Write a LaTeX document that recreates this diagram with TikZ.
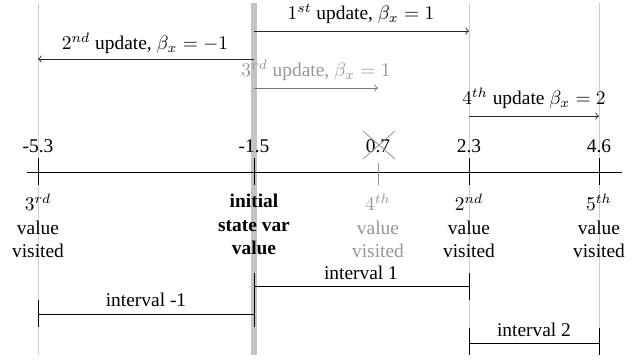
\documentclass[tikz,border=0pt]{standalone}
\usepackage{fontspec}
\setmainfont{Liberation Serif}
\definecolor{vline}{RGB}{205,205,205}
\definecolor{bar}{RGB}{195,195,195}
\definecolor{faded}{RGB}{150,150,150}
\definecolor{fadedline}{RGB}{120,120,120}
\begin{document}
\begin{tikzpicture}[x=0.515pt,y=-0.515pt,
  guide/.style={draw=vline, line width=0.5pt},
  initbar/.style={draw=bar, line width=2.6pt},
  axisline/.style={draw=black, line width=0.45pt},
  tick/.style={draw=black, line width=0.45pt},
  upd/.style={draw=black!85, line width=0.45pt, -to},
  updfaded/.style={draw=fadedline, line width=0.45pt, -to},
  lbl/.style={inner sep=0pt, font=\normalsize},
  vis/.style={inner sep=0pt, align=center, anchor=north},
  ivl/.style={draw=black, line width=0.45pt},
]
\useasboundingbox (0,0) rectangle (639,360);
% guides
\coordinate (gAt) at (38,3);   \coordinate (gAb) at (38,355);
\coordinate (gBt) at (254,3);  \coordinate (gBb) at (254,355);
\coordinate (gDt) at (469,3);  \coordinate (gDb) at (469,355);
\coordinate (gEt) at (599,3);  \coordinate (gEb) at (599,355);
\draw[guide] (gAt) -- (gAb);
\draw[guide] (gDt) -- (gDb);
\draw[guide] (gEt) -- (gEb);
\draw[initbar] (gBt) -- (gBb);
% axis
\coordinate (axL) at (27,172); \coordinate (axR) at (622,172);
\draw[axisline] (axL) -- (axR);
\foreach \n/\x in {A/38,B/254,D/469,E/599}{
  \coordinate (tk\n t) at (\x,158); \coordinate (tk\n b) at (\x,185);
  \draw[tick] (tk\n t) -- (tk\n b);
}
\coordinate (tkCt) at (378,163); \coordinate (tkCb) at (378,185);
\draw[tick, draw=faded] (tkCt) -- (tkCb);
% axis value labels
\node[lbl] (vA) at (38,146) {-5.3};
\node[lbl] (vB) at (254,146) {-1.5};
\node[lbl] (vC) at (378,146) {0.7};
\node[lbl] (vD) at (469,146) {2.3};
\node[lbl] (vE) at (599,146) {4.6};
\coordinate (xa) at (363,131); \coordinate (xb) at (395,159);
\coordinate (xc) at (363,159); \coordinate (xd) at (395,131);
\draw[draw=faded, line width=0.45pt] (xa) -- (xb);
\draw[draw=faded, line width=0.45pt] (xc) -- (xd);
% visited labels
\node[vis] (sA) at (38,194) {$3^{rd}$\\value\\visited};
\node[vis, font=\bfseries] (sB) at (254,194) {initial\\state var\\value};
\node[vis, text=faded] (sC) at (378,194) {$4^{th}$\\value\\visited};
\node[vis] (sD) at (469,194) {$2^{nd}$\\value\\visited};
\node[vis] (sE) at (599,194) {$5^{th}$\\value\\visited};
% update arrows
\coordinate (u1s) at (254,31); \coordinate (u1e) at (469,31);
\draw[upd] (u1s) -- (u1e);
\node[lbl] (l1) at (361,14) {$1^{st}$ update, $\beta_x = 1$};
\coordinate (u2s) at (254,59); \coordinate (u2e) at (38,59);
\draw[upd] (u2s) -- (u2e);
\node[lbl] (l2) at (145,43) {$2^{nd}$ update, $\beta_x = -1$};
\coordinate (u3s) at (254,88); \coordinate (u3e) at (378,88);
\draw[updfaded] (u3s) -- (u3e);
\node[lbl, text=faded] (l3) at (316,70) {$3^{rd}$ update, $\beta_x = 1$};
\coordinate (u4s) at (469,116); \coordinate (u4e) at (599,116);
\draw[upd] (u4s) -- (u4e);
\node[lbl] (l4) at (534,98) {$4^{th}$ update $\beta_x = 2$};
% intervals
\coordinate (iAl) at (38,314); \coordinate (iAr) at (254,314);
\coordinate (iAlt) at (38,300); \coordinate (iAlb) at (38,327);
\coordinate (iArt) at (254,300); \coordinate (iArb) at (254,327);
\draw[ivl] (iAl) -- (iAr);
\draw[ivl] (iAlt) -- (iAlb);
\draw[ivl] (iArt) -- (iArb);
\node[lbl] (nA) at (146,300) {interval -1};
\coordinate (iBl) at (254,286); \coordinate (iBr) at (469,286);
\coordinate (iBlt) at (254,273); \coordinate (iBlb) at (254,300);
\coordinate (iBrt) at (469,273); \coordinate (iBrb) at (469,300);
\draw[ivl] (iBl) -- (iBr);
\draw[ivl] (iBlt) -- (iBlb);
\draw[ivl] (iBrt) -- (iBrb);
\node[lbl] (nB) at (361,273) {interval 1};
\coordinate (iCl) at (469,343); \coordinate (iCr) at (599,343);
\coordinate (iClt) at (469,328); \coordinate (iClb) at (469,355);
\coordinate (iCrt) at (599,328); \coordinate (iCrb) at (599,355);
\draw[ivl] (iCl) -- (iCr);
\draw[ivl] (iClt) -- (iClb);
\draw[ivl] (iCrt) -- (iCrb);
\node[lbl] (nC) at (534,330) {interval 2};
\end{tikzpicture}
\end{document}
